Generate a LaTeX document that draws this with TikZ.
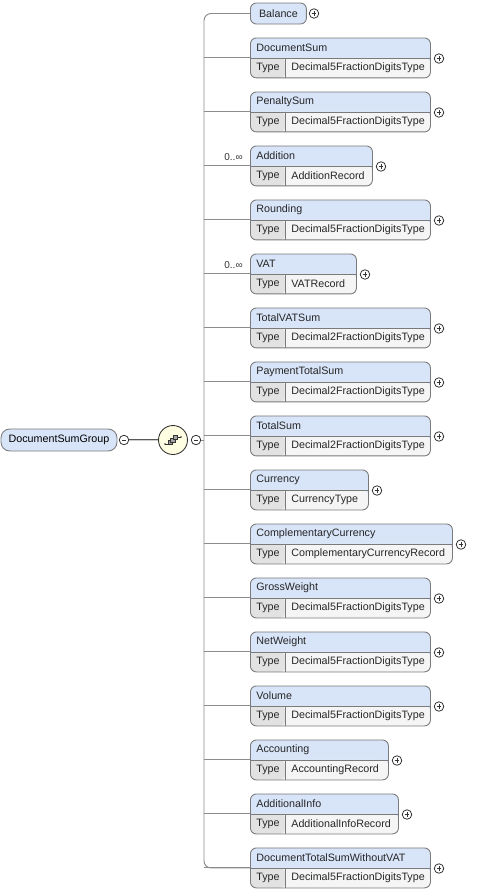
\documentclass[tikz,border=0pt]{standalone}
\usepackage{fontspec}
\setsansfont{Liberation Sans}
\usepackage{tikz}

\definecolor{hdrblue}{HTML}{D8E4F8}
\definecolor{typegray}{HTML}{E2E2E2}
\definecolor{valgray}{HTML}{F5F5F5}
\definecolor{boxedge}{HTML}{7A7A7A}
\definecolor{edgegray}{HTML}{8C8C8C}
\definecolor{seqyellow}{HTML}{FFFDE2}

\begin{document}
\begin{tikzpicture}[x=0.02cm, y=-0.02cm, font=\sffamily\fontsize{6.1}{7}\selectfont,
    conn/.style={draw=edgegray, line width=0.55pt},
    elbox/.style={draw=boxedge, fill=hdrblue, rounded corners=3.4pt, inner sep=0pt, line width=0.5pt},
    lbl/.style={inner sep=0pt, anchor=west, text=black!85},
    occ/.style={inner sep=0pt, anchor=east, font=\sffamily\fontsize{5.7}{6}\selectfont, text=black!80},
    togglec/.style={circle, draw=black!80, fill=white, line width=0.45pt, minimum size=0.19cm, inner sep=0pt},
    minusc/.style={togglec, path picture={
        \draw[line width=0.4pt] ([xshift=-1.3pt]path picture bounding box.center) -- ([xshift=1.3pt]path picture bounding box.center);}},
    plusc/.style={togglec, path picture={
        \draw[line width=0.4pt] ([xshift=-1.3pt]path picture bounding box.center) -- ([xshift=1.3pt]path picture bounding box.center)
          ([yshift=-1.3pt]path picture bounding box.center) -- ([yshift=1.3pt]path picture bounding box.center);}},
    typerow/.style={path picture={
        \fill[valgray] (path picture bounding box.west) rectangle (path picture bounding box.south east);
        \fill[typegray] (path picture bounding box.west) rectangle ([xshift=0.7cm]path picture bounding box.south west);
        \draw[boxedge, line width=0.5pt] (path picture bounding box.west) -- (path picture bounding box.east)
          ([xshift=0.7cm]path picture bounding box.west) -- ([xshift=0.7cm]path picture bounding box.south west);}}]
  \useasboundingbox (0,0) rectangle (485,893);

  % group and sequence
  \node[elbox, rounded corners=5pt, minimum width=2.32cm, minimum height=0.44cm] (root) at (59,440) {DocumentSumGroup};
  \node[minusc] (rootminus) at (124,440) {};
  \node[circle, draw=black!80, fill=seqyellow, line width=0.5pt, minimum size=0.58cm, inner sep=0pt] (seq) at (173,440) {};
  \node[minusc] (seqminus) at (196,440) {};
  \coordinate (spine) at (204,440);
  \draw[black!65, line width=0.5pt, double=gray!40, double distance=0.5pt] (rootminus) -- (seq);
  \draw[conn] (seqminus) -- (spine);

  % sequence icon
  \draw[black!80, line width=0.45pt] ([shift={(-8,4)}]seq.center) -- ([shift={(-3,4)}]seq.center)
    ([shift={(3,-3)}]seq.center) -- ([shift={(8,-3)}]seq.center);
  \fill[black!80] ([shift={(-8,4)}]seq.center) circle (0.5pt) ([shift={(8,-3)}]seq.center) circle (0.5pt);
  \foreach \d in {2.5,0,-2.5}
    \filldraw[fill=gray!70, draw=black!80, line width=0.35pt] ([shift={(-\d-2.2,\d-2.2)}]seq.center) rectangle ([shift={(-\d+2.2,\d+2.2)}]seq.center);

  % Balance
  \node[elbox, minimum width=1.12cm, minimum height=0.42cm, anchor=west, text=black!85] (Balance) at (250,13.5) {Balance};
  \node[plusc] (Balance-p) at (314,13.5) {};

  % elements with a type
  \foreach \k/\nm/\rr/\ty in {0/DocumentSum/430/Decimal5FractionDigitsType,
      1/PenaltySum/430/Decimal5FractionDigitsType,
      2/Addition/372/AdditionRecord,
      3/Rounding/430/Decimal5FractionDigitsType,
      4/VAT/356/VATRecord,
      5/TotalVATSum/430/Decimal2FractionDigitsType,
      6/PaymentTotalSum/430/Decimal2FractionDigitsType,
      7/TotalSum/430/Decimal2FractionDigitsType,
      8/Currency/368/CurrencyType,
      9/ComplementaryCurrency/452/ComplementaryCurrencyRecord,
      10/GrossWeight/430/Decimal5FractionDigitsType,
      11/NetWeight/430/Decimal5FractionDigitsType,
      12/Volume/430/Decimal5FractionDigitsType,
      13/Accounting/388/AccountingRecord,
      14/AdditionalInfo/398/AdditionalInfoRecord,
      15/DocumentTotalSumWithoutVAT/430/Decimal5FractionDigitsType}{
    \pgfmathsetmacro\yy{57.5+54*\k}
    \pgfmathsetmacro\ww{(\rr-250)*0.02}
    \node[elbox, typerow, anchor=north west, minimum width=\ww cm, minimum height=0.8cm] (\nm-box) at (250,\yy-20) {};
    \node[lbl] (\nm) at (256,\yy-10) {\nm};
    \node[lbl] (\nm-t) at (256,\yy+10) {Type};
    \node[lbl] (\nm-v) at (291,\yy+10) {\ty};
    \node[plusc] (\nm-p) at (\rr+9,\yy+1) {};
    \draw[conn] (\nm-box.west -| spine) -- (\nm-box.west);
  }

  % spine
  \draw[conn, rounded corners=4pt] (Balance.west) -| (spine) |- (DocumentTotalSumWithoutVAT-box.west);

  % occurrences
  \node[occ] (Addition-occ) at (243,157) {0..∞};
  \node[occ] (VAT-occ) at (243,265) {0..∞};
\end{tikzpicture}
\end{document}
